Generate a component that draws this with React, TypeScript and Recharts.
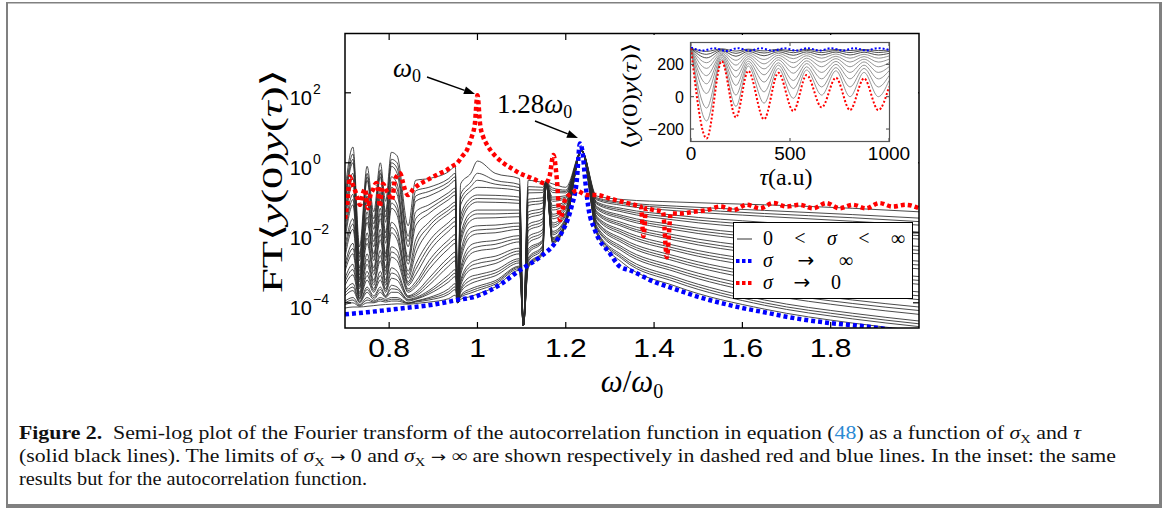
import React from 'react'
import { LineChart, Line, XAxis, YAxis } from 'recharts'

// main plot: log10 FT<y(0)y(tau)> vs omega/omega0
const omegaGrid = [0.7, 0.718, 0.733, 0.75, 0.765, 0.78, 0.792, 0.805, 0.818, 0.843, 0.86, 0.89, 0.935, 0.95, 0.955, 0.962, 0.985, 1.0, 1.04, 1.095, 1.104, 1.115, 1.148, 1.155, 1.17, 1.2, 1.236, 1.27, 1.33, 1.45, 1.65, 1.85, 2.0]

// 0 < sigma < inf family, top (small sigma) to bottom (large sigma)
const sigmaCurves = [
  [-0.8, 0.45, -2.4, -0.1, -1.4, 0.0, -1.1, 0.3, 0.2, -1.8, -0.5, -0.45, -0.25, -0.1, -4.0, -0.6, -0.3, 0.05, -0.3, -0.45, -4.65, -0.5, -0.55, -0.55, -0.6, -0.7, 0.35, -0.95, -1.05, -1.12, -1.2, -1.3, -1.4],
  [-1.0, 0.25, -2.6, -0.3, -1.6, -0.2, -1.4, 0.1, 0.0, -2.1, -0.8, -0.7, -0.45, -0.3, -4.0, -0.9, -0.55, -0.3, -0.5, -0.62, -4.65, -0.68, -0.7, -0.55, -0.72, -0.78, 0.35, -1.0, -1.13, -1.24, -1.36, -1.48, -1.58],
  [-1.1, 0.1, -2.7, -0.4, -1.75, -0.3, -1.55, 0.0, -0.15, -2.25, -0.95, -0.82, -0.55, -0.4, -4.0, -1.05, -0.68, -0.5, -0.61, -0.71, -4.65, -0.77, -0.78, -0.55, -0.78, -0.82, 0.35, -1.03, -1.17, -1.3, -1.45, -1.57, -1.68],
  [-1.2, 0.0, -2.8, -0.5, -1.9, -0.4, -1.7, -0.1, -0.3, -2.4, -1.1, -0.95, -0.65, -0.5, -4.0, -1.2, -0.8, -0.7, -0.72, -0.8, -4.65, -0.86, -0.85, -0.55, -0.85, -0.86, 0.35, -1.06, -1.22, -1.37, -1.53, -1.67, -1.78],
  [-1.4, -0.3, -3.0, -0.8, -2.1, -0.7, -2.0, -0.4, -0.6, -2.7, -1.4, -1.2, -0.85, -0.72, -4.0, -1.5, -1.0, -0.92, -0.93, -0.98, -4.65, -1.04, -1.0, -0.55, -0.98, -0.94, 0.35, -1.12, -1.31, -1.5, -1.7, -1.86, -1.98],
  [-1.55, -0.45, -3.1, -0.95, -2.25, -0.85, -2.15, -0.55, -0.75, -2.8, -1.6, -1.32, -0.95, -0.82, -4.0, -1.65, -1.1, -1.02, -1.03, -1.07, -4.65, -1.13, -1.08, -0.55, -1.04, -0.98, 0.35, -1.15, -1.36, -1.57, -1.79, -1.96, -2.08],
  [-1.7, -0.6, -3.2, -1.1, -2.4, -1.0, -2.3, -0.7, -0.9, -2.9, -1.8, -1.45, -1.05, -0.92, -4.0, -1.8, -1.2, -1.12, -1.13, -1.16, -4.65, -1.22, -1.15, -0.55, -1.1, -1.02, 0.35, -1.18, -1.41, -1.64, -1.88, -2.06, -2.18],
  [-1.9, -0.9, -3.3, -1.4, -2.6, -1.3, -2.6, -1.0, -1.2, -3.1, -2.2, -1.7, -1.25, -1.12, -4.0, -2.05, -1.42, -1.35, -1.35, -1.35, -4.65, -1.4, -1.3, -0.55, -1.22, -1.1, 0.35, -1.25, -1.51, -1.78, -2.06, -2.26, -2.39],
  [-2.05, -1.05, -3.35, -1.55, -2.7, -1.45, -2.7, -1.15, -1.35, -3.2, -2.4, -1.82, -1.35, -1.22, -4.0, -2.18, -1.53, -1.46, -1.46, -1.44, -4.65, -1.49, -1.38, -0.55, -1.28, -1.14, 0.35, -1.28, -1.56, -1.85, -2.15, -2.36, -2.5],
  [-2.2, -1.2, -3.4, -1.7, -2.8, -1.6, -2.8, -1.3, -1.5, -3.3, -2.6, -1.95, -1.45, -1.32, -4.0, -2.3, -1.65, -1.58, -1.57, -1.54, -4.65, -1.58, -1.45, -0.55, -1.35, -1.18, 0.35, -1.32, -1.61, -1.92, -2.24, -2.46, -2.6],
  [-2.4, -1.6, -3.5, -2.0, -3.0, -1.9, -3.0, -1.7, -1.9, -3.4, -2.9, -2.25, -1.7, -1.55, -4.0, -2.55, -1.85, -1.8, -1.78, -1.72, -4.65, -1.76, -1.6, -0.55, -1.47, -1.26, 0.35, -1.39, -1.72, -2.07, -2.43, -2.67, -2.81],
  [-2.55, -1.75, -3.55, -2.15, -3.1, -2.05, -3.1, -1.85, -2.05, -3.45, -3.05, -2.4, -1.82, -1.68, -4.0, -2.68, -1.98, -1.92, -1.89, -1.81, -4.65, -1.85, -1.68, -0.55, -1.53, -1.3, 0.35, -1.42, -1.78, -2.15, -2.53, -2.78, -2.92],
  [-2.7, -1.9, -3.6, -2.3, -3.2, -2.2, -3.2, -2.0, -2.2, -3.5, -3.2, -2.55, -1.95, -1.8, -4.0, -2.8, -2.1, -2.03, -2.0, -1.9, -4.65, -1.94, -1.75, -0.55, -1.6, -1.34, 0.35, -1.46, -1.83, -2.22, -2.62, -2.88, -3.03],
  [-2.9, -2.3, -3.7, -2.6, -3.35, -2.5, -3.35, -2.4, -2.5, -3.6, -3.4, -2.8, -2.2, -2.05, -4.0, -3.0, -2.35, -2.28, -2.22, -2.08, -4.65, -2.12, -1.9, -0.55, -1.72, -1.42, 0.35, -1.53, -1.94, -2.37, -2.81, -3.09, -3.25],
  [-3.0, -2.45, -3.75, -2.75, -3.42, -2.65, -3.42, -2.55, -2.65, -3.65, -3.48, -2.92, -2.32, -2.18, -4.0, -3.1, -2.48, -2.4, -2.33, -2.17, -4.65, -2.21, -1.98, -0.55, -1.78, -1.46, 0.35, -1.56, -2.0, -2.45, -2.9, -3.2, -3.36],
  [-3.1, -2.6, -3.8, -2.9, -3.5, -2.8, -3.5, -2.7, -2.8, -3.7, -3.55, -3.05, -2.45, -2.3, -4.0, -3.2, -2.6, -2.52, -2.45, -2.26, -4.65, -2.3, -2.05, -0.55, -1.84, -1.5, 0.35, -1.6, -2.06, -2.52, -3.0, -3.3, -3.47],
  [-3.3, -2.9, -3.85, -3.1, -3.6, -3.1, -3.6, -3.0, -3.1, -3.8, -3.7, -3.3, -2.7, -2.55, -4.0, -3.35, -2.85, -2.77, -2.67, -2.44, -4.65, -2.46, -2.2, -0.55, -1.96, -1.57, 0.35, -1.67, -2.18, -2.67, -3.19, -3.51, -3.69],
  [-3.4, -3.05, -3.88, -3.22, -3.65, -3.22, -3.65, -3.15, -3.22, -3.82, -3.75, -3.4, -2.82, -2.68, -4.0, -3.42, -2.95, -2.88, -2.78, -2.52, -4.65, -2.53, -2.22, -0.55, -2.01, -1.6, 0.35, -1.7, -2.24, -2.75, -3.28, -3.62, -3.8],
  [-3.5, -3.2, -3.9, -3.35, -3.7, -3.35, -3.7, -3.3, -3.35, -3.85, -3.8, -3.5, -2.95, -2.8, -4.0, -3.5, -3.05, -3.0, -2.88, -2.6, -4.65, -2.6, -2.25, -0.55, -2.06, -1.63, 0.35, -1.74, -2.3, -2.82, -3.38, -3.72, -3.91],
  [-3.65, -3.45, -3.95, -3.55, -3.8, -3.55, -3.8, -3.5, -3.55, -3.9, -3.85, -3.65, -3.2, -3.05, -4.0, -3.6, -3.25, -3.2, -3.07, -2.74, -4.65, -2.72, -2.36, -0.55, -2.14, -1.68, 0.35, -1.81, -2.42, -2.97, -3.57, -3.92, -4.12],
  [-3.72, -3.55, -3.98, -3.62, -3.85, -3.62, -3.82, -3.6, -3.62, -3.92, -3.88, -3.7, -3.3, -3.15, -4.0, -3.65, -3.35, -3.29, -3.15, -2.8, -4.65, -2.77, -2.4, -0.55, -2.17, -1.7, 0.35, -1.85, -2.48, -3.05, -3.66, -4.02, -4.22],
  [-3.8, -3.65, -4.0, -3.7, -3.9, -3.7, -3.85, -3.7, -3.7, -3.95, -3.9, -3.75, -3.4, -3.25, -4.0, -3.7, -3.45, -3.38, -3.23, -2.86, -4.65, -2.82, -2.45, -0.55, -2.2, -1.72, 0.35, -1.88, -2.54, -3.12, -3.75, -4.12, -4.33],
  [-3.95, -3.85, -4.05, -3.85, -3.95, -3.85, -3.9, -3.85, -3.85, -4.0, -3.95, -3.85, -3.6, -3.45, -4.0, -3.78, -3.6, -3.53, -3.37, -2.95, -4.65, -2.9, -2.52, -0.55, -2.24, -1.75, 0.35, -1.94, -2.66, -3.27, -3.92, -4.3, -4.52],
  [-4.0, -3.92, -4.08, -3.92, -3.98, -3.9, -3.94, -3.9, -3.9, -4.01, -3.96, -3.88, -3.68, -3.54, -4.0, -3.81, -3.66, -3.59, -3.42, -2.98, -4.65, -2.93, -2.55, -0.55, -2.25, -1.76, 0.35, -1.96, -2.72, -3.34, -4.0, -4.38, -4.6],
  [-4.05, -4.0, -4.1, -4.0, -4.0, -3.95, -3.98, -3.95, -3.95, -4.02, -3.98, -3.92, -3.75, -3.62, -4.0, -3.84, -3.72, -3.65, -3.47, -3.02, -4.65, -2.96, -2.57, -0.55, -2.27, -1.77, 0.35, -1.99, -2.77, -3.41, -4.07, -4.46, -4.68],
  [-4.15, -4.12, -4.12, -4.1, -4.08, -4.06, -4.05, -4.04, -4.03, -4.04, -4.02, -3.98, -3.88, -3.78, -4.0, -3.9, -3.82, -3.75, -3.55, -3.07, -4.65, -3.0, -2.6, -0.55, -2.3, -1.78, 0.35, -2.03, -2.87, -3.53, -4.18, -4.58, -4.8],
]

// sigma -> inf
const blueOmega = [0.7, 0.75, 0.8, 0.85, 0.9, 0.95, 1.0, 1.05, 1.096, 1.142, 1.172, 1.194, 1.205, 1.213, 1.225, 1.232, 1.238, 1.244, 1.251, 1.266, 1.3, 1.323, 1.345, 1.4, 1.45, 1.5, 1.55, 1.6, 1.65, 1.7, 1.75, 1.8, 1.85, 1.89, 1.93, 2.0]
const blueLog = [-4.33, -4.27, -4.2, -4.13, -4.05, -3.93, -3.8, -3.49, -3.07, -2.69, -2.35, -1.92, -1.6, -1.26, -0.5, 0.55, 0.3, -0.5, -1.26, -1.92, -2.59, -2.97, -3.07, -3.4, -3.62, -3.83, -4.0, -4.15, -4.27, -4.4, -4.5, -4.58, -4.64, -4.69, -4.76, -4.9]

// sigma -> 0
const redOmega = [0.7, 0.705, 0.711, 0.717, 0.723, 0.728, 0.734, 0.74, 0.745, 0.752, 0.758, 0.763, 0.768, 0.772, 0.776, 0.779, 0.783, 0.786, 0.792, 0.799, 0.806, 0.813, 0.819, 0.825, 0.831, 0.836, 0.843, 0.855, 0.87, 0.885, 0.9, 0.915, 0.93, 0.945, 0.953, 0.965, 0.976, 0.987, 0.994, 1.0, 1.006, 1.013, 1.02, 1.03, 1.044, 1.06, 1.08, 1.096, 1.115, 1.134, 1.153, 1.163, 1.172, 1.18, 1.187, 1.198, 1.213, 1.225, 1.247, 1.27, 1.3, 1.33, 1.355, 1.37, 1.376, 1.382, 1.4, 1.42, 1.429, 1.438, 1.46, 1.49, 1.52, 1.55, 1.58, 1.61, 1.64, 1.67, 1.7, 1.73, 1.76, 1.79, 1.82, 1.85, 1.88, 1.91, 1.94, 1.97, 2.0]
const redLog = [-1.6, -1.2, -0.4, -0.6, -0.8, -1.0, -1.2, -0.9, -0.75, -1.3, -0.9, -0.78, -0.62, -0.58, -0.9, -1.26, -0.8, -0.6, -0.75, -0.9, -1.07, -0.5, -0.35, -0.3, -0.55, -0.78, -0.92, -0.75, -0.6, -0.5, -0.4, -0.3, -0.21, -0.08, -0.02, 0.18, 0.36, 0.74, 1.1, 1.93, 1.1, 0.74, 0.55, 0.35, 0.15, -0.02, -0.18, -0.3, -0.4, -0.5, -0.59, -0.4, 0.22, -0.5, -1.64, -1.07, -0.87, -0.8, -0.92, -0.92, -1.02, -1.12, -1.2, -1.25, -2.1, -1.3, -1.35, -1.4, -2.7, -1.45, -1.45, -1.4, -1.35, -1.25, -1.35, -1.2, -1.3, -1.15, -1.25, -1.2, -1.3, -1.15, -1.3, -1.2, -1.3, -1.15, -1.25, -1.2, -1.3]

const omegaTicks = [0.8, 1, 1.2, 1.4, 1.6, 1.8]
const logTicks = [-4, -2, 0, 2]

// inset: <y(0)y(tau)>
const tauGrid = [0, 79, 155, 227, 289, 369, 441, 517, 584, 660, 732, 803, 874, 946, 1000]
const insetRed = [299, -258, 220, -128, 160, -140, 148, -89, 134, -66, 117, -83, 113, -83, 61]
const insetGray = [
  [300, -150, 225, -60, 190, -40, 175, -10, 165, 10, 160, 0, 150, 0, 100],
  [300, -70, 235, 10, 205, 30, 195, 50, 185, 60, 180, 60, 175, 60, 130],
  [300, 20, 245, 70, 220, 90, 210, 100, 205, 110, 200, 110, 195, 110, 160],
  [300, 80, 255, 120, 235, 135, 228, 145, 222, 150, 218, 150, 215, 150, 185],
  [300, 130, 262, 160, 248, 172, 242, 180, 238, 185, 235, 185, 232, 185, 210],
  [300, 175, 270, 195, 260, 203, 256, 210, 253, 214, 250, 214, 248, 214, 232],
  [300, 210, 278, 225, 270, 230, 268, 235, 266, 238, 264, 238, 262, 238, 252],
  [300, 240, 285, 250, 280, 253, 278, 256, 277, 258, 276, 258, 275, 258, 268],
  [300, 262, 292, 268, 288, 270, 287, 272, 286, 273, 285, 273, 285, 273, 280],
  [300, 280, 296, 282, 294, 283, 293, 284, 293, 285, 292, 285, 292, 285, 289],
]
const tauBlue = [0, 60, 118, 177, 236, 295, 354, 413, 472, 531, 590, 649, 708, 767, 826, 885, 944, 1000]
const insetBlue = [305, 285, 300, 283, 300, 284, 300, 284, 300, 285, 300, 285, 300, 286, 300, 286, 300, 290]
const tauTicks = [0, 500, 1000]
const corrTicks = [-200, 0, 200]

const SERIF = "'Liberation Serif', 'DejaVu Serif', serif"
const SANS = "'Liberation Sans', Arial, sans-serif"
const ARROW_FONT = "'DejaVu Sans', sans-serif"

// pixel layout
const P = { left: 345, right: 919, top: 34, bottom: 328 }
const IN = { left: 691, right: 889, top: 43, bottom: 141 }

const rows = (xs: number[], ys: number[]) => xs.map((w, i) => ({ w, v: ys[i] }))
const minus = (n: number) => (n < 0 ? '\u2212' + Math.abs(n) : String(n))

function OmegaTick({ x, payload }: any) {
  return (
    <g>
      <line x1={x} x2={x} y1={P.bottom} y2={P.bottom - 6} stroke="#000" strokeWidth={1.2} />
      <line x1={x} x2={x} y1={P.top} y2={P.top + 6} stroke="#000" strokeWidth={1.2} />
      <text transform={`translate(${x} 357) scale(1.2 1)`} textAnchor="middle" fontSize={25} fontFamily={SANS} fill="#000">
        {payload.value}
      </text>
    </g>
  )
}

function LogTick({ y, payload }: any) {
  return (
    <g>
      <line x1={P.left} x2={P.left + 6} y1={y} y2={y} stroke="#000" strokeWidth={1.2} />
      <line x1={P.right - 6} x2={P.right} y1={y} y2={y} stroke="#000" strokeWidth={1.2} />
      <text x={312} y={y + 12} textAnchor="end" fontSize={20} fontFamily={SANS} fill="#000">10</text>
      <text x={313} y={y + 1} fontSize={14} fontFamily={SANS} fill="#000">{minus(payload.value)}</text>
    </g>
  )
}

function TauTick({ x, payload }: any) {
  return (
    <g>
      <line x1={x} x2={x} y1={IN.bottom} y2={IN.bottom - 3} stroke="#444" />
      <line x1={x} x2={x} y1={IN.top} y2={IN.top + 3} stroke="#444" />
      <text x={x} y={160} textAnchor="middle" fontSize={19} fontFamily={SANS} fill="#000">{payload.value}</text>
    </g>
  )
}

function CorrTick({ y, payload }: any) {
  return (
    <g>
      <line x1={IN.left} x2={IN.left + 3} y1={y} y2={y} stroke="#444" />
      <line x1={IN.right - 3} x2={IN.right} y1={y} y2={y} stroke="#444" />
      <text x={684} y={y + 6} textAnchor="end" fontSize={16} fontFamily={SANS} fill="#000">{minus(payload.value)}</text>
    </g>
  )
}

function Arrow({ x1, y1, x2, y2 }: { x1: number; y1: number; x2: number; y2: number }) {
  const len = Math.hypot(x2 - x1, y2 - y1)
  const ux = (x2 - x1) / len
  const uy = (y2 - y1) / len
  const bx = x2 - ux * 11
  const by = y2 - uy * 11
  return (
    <g>
      <line x1={x1} y1={y1} x2={bx} y2={by} stroke="#000" strokeWidth={1.4} />
      <polygon points={`${x2},${y2} ${bx - uy * 4},${by + ux * 4} ${bx + uy * 4},${by - ux * 4}`} fill="#000" />
    </g>
  )
}

const layer: React.CSSProperties = { position: 'absolute', left: 0, top: 0 }

export default function App() {
  return (
    <div style={{ position: 'absolute', left: 0, top: 0, width: 1174, height: 508, background: '#fff', overflow: 'hidden' }}>
      {/* main semi-log plot */}
      <div style={layer}>
        <LineChart width={1174} height={508} margin={{ top: P.top, right: 1174 - P.right, bottom: 130, left: P.left - 60 }}>
          <XAxis dataKey="w" type="number" domain={[0.7, 2.0]} ticks={omegaTicks} interval={0} allowDataOverflow
            axisLine={false} tickLine={false} height={50} tick={OmegaTick} />
          <YAxis type="number" domain={[-4.72, 3.68]} ticks={logTicks} interval={0} allowDataOverflow
            axisLine={false} tickLine={false} width={60} tick={LogTick} />
          {sigmaCurves.map((c, k) => (
            <Line key={k} data={rows(omegaGrid, c)} dataKey="v" type="monotone" stroke="#2b2b2b" strokeWidth={0.85}
              dot={false} activeDot={false} isAnimationActive={false} />
          ))}
          <Line data={rows(blueOmega, blueLog)} dataKey="v" type="monotone" stroke="#0000ff" strokeWidth={4.5}
            strokeDasharray="4 3" dot={false} activeDot={false} isAnimationActive={false} />
          <Line data={rows(redOmega, redLog)} dataKey="v" type="monotone" stroke="#ff0000" strokeWidth={4.5}
            strokeDasharray="4 3" dot={false} activeDot={false} isAnimationActive={false} />
        </LineChart>
      </div>

      {/* inset background */}
      <svg width={1174} height={508} style={{ ...layer, pointerEvents: 'none' }}>
        <rect x={603} y={35} width={315} height={158} fill="#fff" />
      </svg>

      {/* inset */}
      <div style={layer}>
        <LineChart width={1174} height={508} margin={{ top: IN.top, right: 1174 - IN.right, bottom: 508 - IN.bottom - 30, left: IN.left - 40 }}>
          <XAxis dataKey="w" type="number" domain={[0, 1000]} ticks={tauTicks} interval={0} allowDataOverflow
            axisLine={false} tickLine={false} height={30} tick={TauTick} />
          <YAxis type="number" domain={[-274, 332]} ticks={corrTicks} interval={0} allowDataOverflow
            axisLine={false} tickLine={false} width={40} tick={CorrTick} />
          {insetGray.map((c, k) => (
            <Line key={k} data={rows(tauGrid, c)} dataKey="v" type="monotone" stroke={k > 6 ? '#222' : '#7a7a7a'} strokeWidth={0.8}
              dot={false} activeDot={false} isAnimationActive={false} />
          ))}
          <Line data={rows(tauBlue, insetBlue)} dataKey="v" type="monotone" stroke="#0000ff" strokeWidth={2}
            strokeDasharray="2 2" dot={false} activeDot={false} isAnimationActive={false} />
          <Line data={rows(tauGrid, insetRed)} dataKey="v" type="monotone" stroke="#ff0000" strokeWidth={2}
            strokeDasharray="2 2" dot={false} activeDot={false} isAnimationActive={false} />
        </LineChart>
      </div>

      {/* frames, labels, legend, caption */}
      <svg width={1174} height={508} style={{ ...layer, pointerEvents: 'none' }}>
        <rect x={P.left} y={P.top - 0.5} width={P.right - P.left} height={P.bottom - P.top + 0.5} fill="none" stroke="#000" strokeWidth={1.5} />
        <rect x={IN.left - 0.5} y={IN.top - 0.5} width={IN.right - IN.left + 1} height={IN.bottom - IN.top + 1} fill="none" stroke="#555" strokeWidth={1.2} />

        {/* axis labels */}
        <text transform="translate(282 181) rotate(-90)" textAnchor="middle" fontSize={30} fontFamily={SERIF} textLength={224} lengthAdjust="spacingAndGlyphs">
          FT{'\u27E8'}<tspan fontStyle="italic">y</tspan>(0)<tspan fontStyle="italic">y</tspan>(<tspan fontStyle="italic">{'\u03C4'}</tspan>){'\u27E9'}
        </text>
        <text x={632} y={392} textAnchor="middle" fontSize={31} fontFamily={SERIF}>
          <tspan fontStyle="italic">{'\u03C9'}</tspan>/<tspan fontStyle="italic">{'\u03C9'}</tspan><tspan fontSize={20} dy={6}>0</tspan>
        </text>
        <text transform="translate(637 96) rotate(-90)" textAnchor="middle" fontSize={21} fontFamily={SERIF} textLength={107} lengthAdjust="spacingAndGlyphs">
          {'\u27E8'}<tspan fontStyle="italic">y</tspan>(0)<tspan fontStyle="italic">y</tspan>(<tspan fontStyle="italic">{'\u03C4'}</tspan>){'\u27E9'}
        </text>
        <text x={786} y={185} textAnchor="middle" fontSize={24} fontFamily={SERIF}>
          <tspan fontStyle="italic">{'\u03C4'}</tspan>(a.u)
        </text>

        {/* annotations */}
        <text x={393} y={77} fontSize={27} fontFamily={SERIF}>
          <tspan fontStyle="italic">{'\u03C9'}</tspan><tspan fontSize={18} dy={5}>0</tspan>
        </text>
        <Arrow x1={427} y1={77} x2={475} y2={94} />
        <text x={497} y={113} fontSize={27} fontFamily={SERIF}>
          1.28<tspan fontStyle="italic">{'\u03C9'}</tspan><tspan fontSize={18} dy={5}>0</tspan>
        </text>
        <Arrow x1={535} y1={121} x2={578} y2={138} />

        {/* legend */}
        <rect x={733.5} y={222.5} width={179} height={76} fill="#fff" stroke="#000" strokeWidth={1} />
        <line x1={737} x2={752} y1={239} y2={239} stroke="#777" strokeWidth={1.5} />
        <line x1={736} x2={753} y1={261} y2={261} stroke="#0000ff" strokeWidth={4} strokeDasharray="3.5 2.5" />
        <line x1={736} x2={753} y1={283} y2={283} stroke="#ff0000" strokeWidth={4} strokeDasharray="3.5 2.5" />
        <g fontSize={20} fontFamily={SERIF} fill="#000">
          <text x={763} y={245} textLength={142} lengthAdjust="spacing">
            0 {'<'} <tspan fontStyle="italic">{'\u03C3'}</tspan> {'<'} {'\u221E'}
          </text>
          <text x={763} y={267} textLength={90} lengthAdjust="spacing">
            <tspan fontStyle="italic">{'\u03C3'}</tspan> <tspan fontFamily={ARROW_FONT}>{'\u2192'}</tspan> {'\u221E'}
          </text>
          <text x={763} y={289} textLength={78} lengthAdjust="spacing">
            <tspan fontStyle="italic">{'\u03C3'}</tspan> <tspan fontFamily={ARROW_FONT}>{'\u2192'}</tspan> 0
          </text>
        </g>

        {/* caption */}
        <g fontFamily={SERIF} fontSize={18} fill="#111">
          <text x={19} y={439} textLength={1062} lengthAdjust="spacingAndGlyphs">
            <tspan fontWeight="bold">Figure 2.</tspan>{'\u00A0\u00A0'}Semi-log plot of the Fourier transform of the autocorrelation function in equation (<tspan fill="#2a8ad4">48</tspan>) as a function of <tspan fontStyle="italic">{'\u03C3'}</tspan><tspan fontSize={12} dy={4}>X</tspan><tspan dy={-4}> and </tspan><tspan fontStyle="italic">{'\u03C4'}</tspan>
          </text>
          <text x={19} y={462} textLength={1097} lengthAdjust="spacingAndGlyphs">
            (solid black lines). The limits of <tspan fontStyle="italic">{'\u03C3'}</tspan><tspan fontSize={12} dy={4}>X</tspan><tspan dy={-4}> <tspan fontFamily={ARROW_FONT} fontSize={15}>{'\u2192'}</tspan> 0 and </tspan><tspan fontStyle="italic">{'\u03C3'}</tspan><tspan fontSize={12} dy={4}>X</tspan><tspan dy={-4}> <tspan fontFamily={ARROW_FONT} fontSize={15}>{'\u2192'}</tspan> {'\u221E'} are shown respectively in dashed red and blue lines. In the inset: the same</tspan>
          </text>
          <text x={19} y={485} textLength={348} lengthAdjust="spacingAndGlyphs">
            results but for the autocorrelation function.
          </text>
        </g>

        {/* page frame */}
        <rect x={6} y={2} width={1156} height={1.5} fill="#808080" />
        <rect x={6} y={2} width={2} height={504} fill="#808080" />
        <rect x={1159} y={2} width={3} height={504} fill="#808080" />
        <rect x={6} y={504} width={1156} height={4} fill="#808080" />
      </svg>
    </div>
  )
}
